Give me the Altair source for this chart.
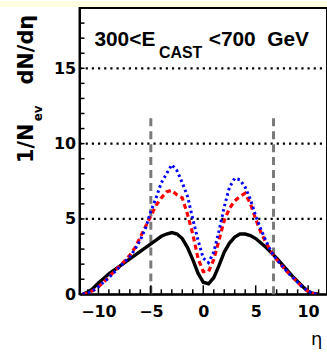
import altair as alt
import pandas as pd

# ---- data ----
eta = [-11.5, -11, -10.5, -10, -9.5, -9, -8.5, -8, -7.5, -7, -6.5, -6, -5.5, -5, -4.5, -4,
       -3.5, -3, -2.5, -2, -1.5, -1, -0.5, 0, 0.5, 1, 1.5, 2, 2.5, 3, 3.5, 4, 4.5, 5, 5.5,
       6, 6.5, 7, 7.5, 8, 8.5, 9, 9.5, 10, 10.5, 11]
black = [0.0, 0.15, 0.4, 0.75, 1.05, 1.35, 1.6, 1.85, 2.1, 2.35, 2.6, 2.85, 3.1, 3.35, 3.6, 3.85,
         4.0, 4.1, 4.0, 3.7, 3.1, 2.3, 1.4, 0.8, 0.7, 1.1, 1.9, 2.8, 3.4, 3.8, 4.0, 4.0, 3.9, 3.7, 3.4,
         3.1, 2.75, 2.4, 2.0, 1.6, 1.2, 0.85, 0.5, 0.2, 0.05, 0.0]
red = [0.0, 0.1, 0.25, 0.5, 0.8, 1.15, 1.5, 1.85, 2.2, 2.6, 3.1, 3.8, 4.5, 5.2, 5.9, 6.4,
       6.8, 6.9, 6.6, 6.4, 5.3, 4.0, 2.4, 1.5, 1.5, 2.3, 3.6, 4.9, 5.7, 6.2, 6.5, 6.7, 6.0, 5.0, 4.1,
       3.4, 2.8, 2.3, 1.9, 1.5, 1.15, 0.8, 0.45, 0.2, 0.05, 0.0]
blue = [0.0, 0.1, 0.25, 0.5, 0.8, 1.1, 1.45, 1.8, 2.15, 2.5, 3.0, 3.6, 4.4, 5.5, 6.4, 7.4,
        8.0, 8.6, 8.2, 7.4, 6.5, 5.0, 3.6, 2.4, 2.1, 2.8, 4.2, 5.8, 7.1, 7.7, 7.6, 7.1, 6.3, 5.2, 4.3,
        3.5, 2.8, 2.3, 1.9, 1.5, 1.15, 0.8, 0.45, 0.2, 0.05, 0.0]

x_ticks = [-10, -5, 0, 5, 10]
y_ticks = [0, 5, 10, 15]
x_minor = list(range(-11, 12))
y_minor = list(range(1, 19))
grid_levels = [5, 10, 15]
cut_eta = [-5, 6.7]
cut_lo = [0, 0]
cut_hi = [12, 12]

W, H = 249, 288
xs = alt.Scale(domain=[-11.8, 11.8], nice=False, zero=False)
ys = alt.Scale(domain=[0, 19], nice=False, zero=False)

x_axis = alt.Axis(values=x_ticks, tickSize=0, labelPadding=9, labelFontSize=16,
                  labelFont="DejaVu Sans", labelFontWeight="bold", labelColor="black",
                  domainColor="black", domainWidth=2, grid=False, labelFlush=False)
y_axis = alt.Axis(values=y_ticks, tickSize=0, labelPadding=4, labelFontSize=16,
                  labelFont="DejaVu Sans", labelFontWeight="bold", labelColor="black",
                  domainColor="black", domainWidth=2, grid=False, labelFlush=False)

def X(f):
    return alt.X(f, scale=xs, axis=x_axis, title=None)

def Y(f):
    return alt.Y(f, scale=ys, axis=y_axis, title=None)

curves = pd.DataFrame({"eta": eta, "black": black, "red": red, "blue": blue})

def curve(col, color, dash, width):
    kw = dict(color=color, strokeWidth=width, clip=True)
    if dash:
        kw["strokeDash"] = dash
    return alt.Chart(curves).mark_line(**kw).encode(x=X("eta:Q"), y=Y(f"{col}:Q"))

xt = pd.DataFrame({"t": x_minor, "major": [t % 5 == 0 for t in x_minor]})
xtick_minor = alt.Chart(xt).transform_filter("!datum.major").mark_rule(color="black", strokeWidth=1.5).encode(
    x=X("t:Q"), y=alt.value(H), y2=alt.value(H - 5))
xtick_major = alt.Chart(xt).transform_filter("datum.major").mark_rule(color="black", strokeWidth=1.5).encode(
    x=X("t:Q"), y=alt.value(H), y2=alt.value(H - 9))
yt = pd.DataFrame({"t": y_minor})
ytick = alt.Chart(yt).mark_rule(color="black", strokeWidth=1.5).encode(
    y=Y("t:Q"), x=alt.value(0), x2=alt.value(5))

grid = alt.Chart(pd.DataFrame({"g": grid_levels})).mark_rule(
    color="black", strokeWidth=2.2, strokeDash=[2.2, 4]).encode(
    y=Y("g:Q"), x=alt.value(0), x2=alt.value(W))

cuts = alt.Chart(pd.DataFrame({"c": cut_eta, "lo": cut_lo, "hi": cut_hi})).mark_rule(
    color="#7a7a7a", strokeWidth=3, strokeDash=[8, 5]).encode(
    x=X("c:Q"), y=Y("lo:Q"), y2="hi:Q")

one = pd.DataFrame({"a": [0]})
band = alt.Chart(one).mark_rect(color="#FFFFE0", clip=False).encode(
    x=alt.value(-80), x2=alt.value(W + 5), y=alt.value(-7), y2=alt.value(-1))

def txt(s, x, y, size, font="Liberation Sans", weight="bold", angle=0):
    return alt.Chart(one).mark_text(text=s, font=font, fontSize=size, fontWeight=weight,
                                    align="left", baseline="alphabetic", angle=angle,
                                    color="black", clip=False).encode(
        x=alt.value(x), y=alt.value(y))

title = (txt("300<E", 15, 38, 21) + txt("CAST", 80, 50, 16)
         + txt("<700\u00a0\u00a0GeV", 130, 38, 21))
ylab = (txt("1/N", -47, 156, 21, font="DejaVu Sans", angle=270)
        + txt("ev", -38, 114, 12, font="DejaVu Sans", angle=270)
        + txt("dN/dη", -47, 77, 21, font="DejaVu Sans", angle=270))
xlab = txt("η", 233, 339, 18, font="DejaVu Sans", weight="normal")

chart = alt.layer(
    band, grid, cuts, xtick_minor, xtick_major, ytick,
    curve("black", "black", None, 3.4),
    curve("red", "#ff0000", [5, 3.5], 3.2),
    curve("blue", "#0000ff", [2.5, 3], 3.0),
    title, ylab, xlab,
).properties(
    width=W, height=H,
    autosize=alt.AutoSizeParams(type="none"),
    padding={"left": 80, "top": 7, "right": 0, "bottom": 60},
    background="white",
).configure_view(stroke="black", strokeWidth=2)

chart.save("out.html", embed_options={"renderer": "svg", "actions": False})
